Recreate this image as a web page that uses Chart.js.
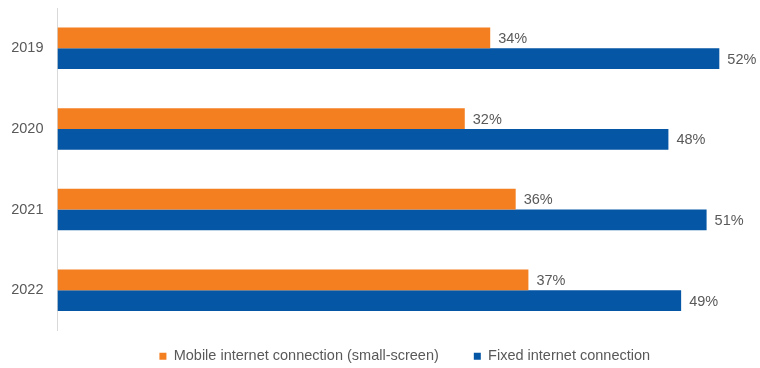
<!DOCTYPE html>
<html>
<head>
<meta charset="utf-8">
<script src="https://cdn.jsdelivr.net/npm/chart.js@4/dist/chart.umd.min.js"></script>
<style>
  html, body { margin: 0; padding: 0; background: #fff; }
  #wrap { width: 760px; height: 368px; }
</style>
</head>
<body>
<div id="wrap"><canvas id="myBarChart"></canvas></div>
<script>
var years = ['2019', '2020', '2021', '2022'];
var mobile = [34, 32, 36, 37];
var fixed = [52, 48, 51, 49];
var seriesNames = ['Mobile internet connection (small-screen)', 'Fixed internet connection'];

var textColor = '#595959';
var fontFamily = '"Liberation Sans", Arial, sans-serif';

// writes the % value just past the end of each bar
var barLabels = {
  id: 'barLabels',
  afterDatasetsDraw: function (chart) {
    var ctx = chart.ctx;
    ctx.save();
    ctx.font = '14.5px ' + fontFamily;
    ctx.fillStyle = textColor;
    ctx.textAlign = 'left';
    ctx.textBaseline = 'middle';
    chart.data.datasets.forEach(function (ds, i) {
      chart.getDatasetMeta(i).data.forEach(function (bar, j) {
        ctx.fillText(ds.data[j] + '%', bar.x + 8, bar.y + 1);
      });
    });
    ctx.restore();
  }
};

// keep the legend short and sit it where the original has it
var legendPlace = {
  id: 'legendPlace',
  beforeLayout: function (chart) {
    var lg = chart.legend;
    if (lg && !lg._patched) {
      var fit = lg.fit.bind(lg);
      lg.fit = function () { fit(); this.height = 37.5; };
      lg._patched = true;
    }
  },
  afterLayout: function (chart) {
    var lg = chart.legend;
    lg.top = 314;
    lg.bottom = 368;
    lg.left += 26;
    lg.right += 26;
  }
};

var ctx = document.getElementById('myBarChart').getContext('2d');
var myChart = new Chart(ctx, {
  type: 'bar',
  data: {
    labels: years,
    datasets: [{
      label: seriesNames[0],
      data: mobile,
      backgroundColor: '#F47F20',
      borderWidth: 0
    }, {
      label: seriesNames[1],
      data: fixed,
      backgroundColor: '#0556A5',
      borderWidth: 0
    }]
  },
  options: {
    indexAxis: 'y',
    responsive: true,
    maintainAspectRatio: false,
    animation: false,
    layout: { padding: { top: 8, right: 2.5, bottom: 0, left: 0 } },
    datasets: {
      bar: { barPercentage: 1, categoryPercentage: 0.515 }
    },
    scales: {
      x: {
        display: false,
        min: 0,
        max: 55
      },
      y: {
        grid: { display: false, drawTicks: false },
        border: { display: true, color: '#d9d9d9', width: 1 },
        ticks: {
          color: textColor,
          padding: 14,
          font: { family: fontFamily, size: 14.5 }
        },
        afterFit: function (scale) {
          scale.width = 57.5;
          scale.paddingTop = 0;
          scale.paddingBottom = 0;
        }
      }
    },
    plugins: {
      legend: {
        position: 'bottom',
        labels: {
          boxWidth: 7,
          boxHeight: 7,
          padding: 35,
          color: textColor,
          font: { family: fontFamily, size: 14.5 }
        }
      },
      tooltip: { enabled: false }
    }
  },
  plugins: [barLabels, legendPlace]
});
</script>
</body>
</html>
